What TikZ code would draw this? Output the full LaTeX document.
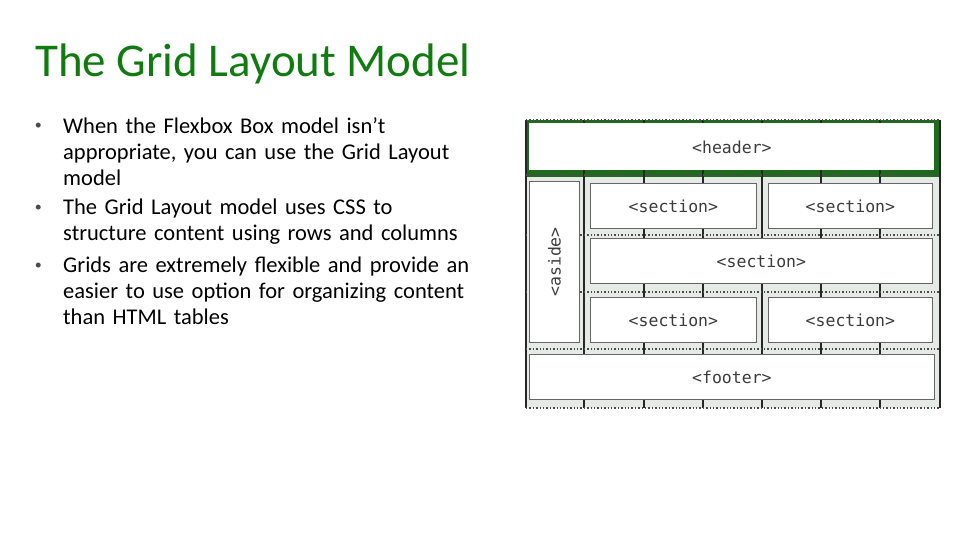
\documentclass[tikz,border=0pt]{standalone}
\usepackage{fontspec}
\setmainfont{Carlito}
\newfontfamily\monofont{DejaVu Sans Mono}
\definecolor{titlegreen}{HTML}{107C10}
\definecolor{bandgreen}{HTML}{1E6B1E}
\definecolor{gridbg}{HTML}{E6EAE6}
\definecolor{labelgray}{HTML}{3C3C3C}
\tikzset{
  cellbox/.style={draw=gray!80!black, fill=white, line width=0.8pt},
  celltext/.style={font=\monofont\fontsize{16.5}{16.5}\selectfont, text=labelgray},
  gridline/.style={line width=1.6pt, black!85},
  rowline/.style={line width=1.4pt, dotted, black!70},
  bullettext/.style={font=\fontsize{22.5}{26}\selectfont, text width=425pt, align=left, anchor=north west, inner sep=0pt}
}
\begin{document}
\begin{tikzpicture}[x=1pt,y=-1pt]
\useasboundingbox (0,0) rectangle (979,551);
\node[anchor=base west, inner sep=0pt, text=titlegreen, font=\fontsize{47}{47}\selectfont] (title) at (35,77) {The Grid Layout Model};
% bullets
\foreach \y/\txt [count=\i] in {117/{When the Flexbox Box model isn’t\\appropriate, you can use the Grid Layout\\model},
  199/{The Grid Layout model uses CSS to\\structure content using rows and columns},
  257/{Grids are extremely flexible and provide an\\easier to use option for organizing content\\than HTML tables}}{
  \node[bullettext] (item\i) at (63,\y) {\txt};
  \node[anchor=north east, inner sep=0pt, text=black!70, font=\fontsize{14}{26}\selectfont] (dot\i) at (42,\y+6) {•};
}
% grid background
\fill[gridbg] (526,120) rectangle (940,408);
\fill[bandgreen] (526,120) rectangle (940,177);
\foreach \x in {526,584,644,703,762,821,880,940}
  \draw[gridline] (\x,120) -- (\x,408);
\foreach \y in {120,175,235,292,349,408}
  \draw[rowline] (526,\y) -- (940,\y);
% boxes
\node[cellbox, minimum width=405pt, minimum height=47pt, anchor=north west, draw=none] (header) at (529,123) {};
\node[celltext] at (header) {<header>};
\node[cellbox, minimum width=50pt, minimum height=161pt, anchor=north west] (aside) at (529,181) {};
\node[celltext, rotate=90] at (aside) {<aside>};
\node[cellbox, minimum width=166pt, minimum height=45pt, anchor=north west] (secA) at (590,183) {};
\node[celltext] at (secA) {<section>};
\node[cellbox, minimum width=164pt, minimum height=45pt, anchor=north west] (secB) at (768,183) {};
\node[celltext] at (secB) {<section>};
\node[cellbox, minimum width=342pt, minimum height=45pt, anchor=north west] (secC) at (590,238) {};
\node[celltext] at (secC) {<section>};
\node[cellbox, minimum width=166pt, minimum height=45pt, anchor=north west] (secD) at (590,297) {};
\node[celltext] at (secD) {<section>};
\node[cellbox, minimum width=164pt, minimum height=45pt, anchor=north west] (secE) at (768,297) {};
\node[celltext] at (secE) {<section>};
\node[cellbox, minimum width=405pt, minimum height=45pt, anchor=north west] (footer) at (529,354) {};
\node[celltext] at (footer) {<footer>};
\end{tikzpicture}
\end{document}
